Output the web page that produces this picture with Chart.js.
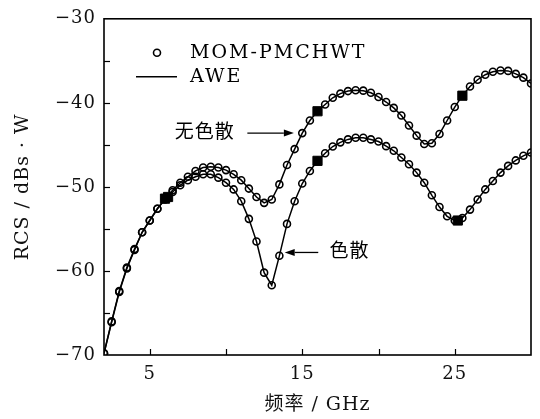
<!DOCTYPE html>
<html><head><meta charset="utf-8">
<script src="https://cdn.jsdelivr.net/npm/chart.js@4.4.1/dist/chart.umd.min.js"></script>
<style>html,body{margin:0;padding:0;background:#fff;}#wrap{width:540px;height:419px;}</style>
</head><body><div id="wrap"><canvas id="c" width="540" height="419"></canvas></div>
<script>
// Frequencies (GHz)
const freqGHz = [2,2.5,3,3.5,4,4.5,5,5.5,6,6.5,7,7.5,8,8.5,9,9.5,10,10.5,11,11.5,12,12.5,13,13.5,14,14.5,15,15.5,16,16.5,17,17.5,18,18.5,19,19.5,20,20.5,21,21.5,22,22.5,23,23.5,24,24.5,25,25.5,26,26.5,27,27.5,28,28.5,29,29.5,30];
// RCS without dispersion (无色散), dBsW
const rcsNoDispersion = [-69.8,-66.1,-62.5,-59.7,-57.5,-55.4,-54.0,-52.6,-51.4,-50.4,-49.5,-48.8,-48.1,-47.7,-47.6,-47.7,-48.0,-48.5,-49.2,-50.2,-51.2,-51.9,-51.5,-49.7,-47.4,-45.5,-43.6,-42.1,-41.0,-40.2,-39.4,-38.9,-38.6,-38.5,-38.55,-38.8,-39.3,-39.9,-40.6,-41.5,-42.7,-43.9,-44.9,-44.8,-43.7,-42.1,-40.5,-39.15,-38.05,-37.25,-36.65,-36.3,-36.15,-36.2,-36.55,-37.0,-37.7];
// RCS with dispersion (色散), dBsW
const rcsDispersion = [-69.8,-66.0,-62.4,-59.6,-57.4,-55.4,-54.0,-52.6,-51.5,-50.6,-49.8,-49.2,-48.8,-48.5,-48.5,-48.9,-49.5,-50.3,-51.7,-53.8,-56.5,-60.2,-61.7,-58.2,-54.4,-51.7,-49.6,-48.1,-46.9,-46.0,-45.2,-44.7,-44.35,-44.15,-44.15,-44.35,-44.6,-45.15,-45.7,-46.5,-47.3,-48.3,-49.5,-51.0,-52.4,-53.5,-54.0,-53.7,-52.7,-51.5,-50.3,-49.3,-48.3,-47.5,-46.85,-46.3,-45.9];
// AWE expansion points (filled squares)
const expFreqNoDisp = [6, 16, 25.5];
const expRcsNoDisp = [-51.4, -41.0, -39.15];
const expFreqDisp = [6.2, 16, 25.2];
const expRcsDisp = [-51.2, -46.9, -54.0];
// Tick labels
const xTickLabels = [5, 15, 25];
const yTickLabels = [-30, -40, -50, -60, -70];
const legendLabels = ['MOM-PMCHWT', 'AWE'];
const curveLabels = ['无色散', '色散'];
const xTitle = '频率 / GHz';
const yTitle = 'RCS / dBs · W';

const FONT = '"DejaVu Serif", "Noto Sans CJK SC", serif';

function pts(xs, ys){ return xs.map((x,i)=>({x:x, y:ys[i]})); }

const curveStyle = {
  showLine: true, borderColor: '#000', borderWidth: 1.5,
  pointRadius: 3.5, pointBorderWidth: 1.6, pointBorderColor: '#000',
  pointBackgroundColor: 'rgba(0,0,0,0)', pointStyle: 'circle', tension: 0
};
const squareStyle = {
  showLine: false, pointStyle: 'rect', pointRadius: 6.5,
  pointBackgroundColor: '#000', pointBorderColor: '#000', pointBorderWidth: 1
};

const decor = {
  id: 'decor',
  beforeDraw(chart){ chart.ctx.letterSpacing = '1px'; },
  afterDraw(chart){
    const ctx = chart.ctx, a = chart.chartArea;
    const xs = chart.scales.x, ys = chart.scales.y;
    ctx.save();
    ctx.strokeStyle = '#000'; ctx.fillStyle = '#000';
    // frame
    ctx.lineWidth = 1.6;
    ctx.strokeRect(a.left, a.top, a.right - a.left, a.bottom - a.top);
    // inner ticks
    ctx.lineWidth = 1.2;
    const tl = 6;
    xs.ticks.forEach(t => {
      if (t.value <= xs.min || t.value >= xs.max) return;
      const px = Math.round(xs.getPixelForValue(t.value)) + 0.5;
      ctx.beginPath(); ctx.moveTo(px, a.bottom); ctx.lineTo(px, a.bottom - tl); ctx.stroke();
    });
    ys.ticks.forEach(t => {
      if (t.value <= ys.min || t.value >= ys.max) return;
      const py = Math.round(ys.getPixelForValue(t.value)) + 0.5;
      ctx.beginPath(); ctx.moveTo(a.left, py); ctx.lineTo(a.left + tl, py); ctx.stroke();
    });
    // legend
    const lx = a.left, ly = a.top;
    ctx.lineWidth = 1.6;
    ctx.beginPath(); ctx.arc(lx + 53, ly + 34, 3.5, 0, Math.PI*2); ctx.stroke();
    ctx.lineWidth = 1.4;
    ctx.beginPath(); ctx.moveTo(lx + 32, ly + 58); ctx.lineTo(lx + 73, ly + 58); ctx.stroke();
    ctx.font = '19px ' + FONT;
    ctx.letterSpacing = '2px';
    ctx.textBaseline = 'middle'; ctx.textAlign = 'left';
    ctx.fillText(legendLabels[0], lx + 86, ly + 34);
    ctx.fillText(legendLabels[1], lx + 86, ly + 58);
    ctx.letterSpacing = '1px';
    // annotations
    function arrow(x0, y0, x1, y1){
      ctx.lineWidth = 1.3;
      const ang = Math.atan2(y1 - y0, x1 - x0);
      const hl = 10, hw = 3.5;
      const bx = x1 - hl*Math.cos(ang), by = y1 - hl*Math.sin(ang);
      ctx.beginPath(); ctx.moveTo(x0, y0); ctx.lineTo(bx, by); ctx.stroke();
      ctx.beginPath(); ctx.moveTo(x1, y1);
      ctx.lineTo(bx + hw*Math.sin(ang), by - hw*Math.cos(ang));
      ctx.lineTo(bx - hw*Math.sin(ang), by + hw*Math.cos(ang));
      ctx.closePath(); ctx.fill();
    }
    ctx.font = '19px ' + FONT;
    ctx.textAlign = 'center';
    const ay1 = ys.getPixelForValue(-43.6);
    ctx.fillText(curveLabels[0], xs.getPixelForValue(8.6), ay1);
    arrow(xs.getPixelForValue(11.4), ay1, xs.getPixelForValue(14.45), ay1);
    const ay2 = ys.getPixelForValue(-57.8);
    ctx.fillText(curveLabels[1], xs.getPixelForValue(18.1), ay2);
    arrow(xs.getPixelForValue(16.05), ay2, xs.getPixelForValue(13.85), ay2);
    ctx.restore();
  }
};

new Chart(document.getElementById('c'), {
  type: 'scatter',
  data: {
    datasets: [
      Object.assign({label: curveLabels[0], data: pts(freqGHz, rcsNoDispersion)}, curveStyle),
      Object.assign({label: curveLabels[1], data: pts(freqGHz, rcsDispersion)}, curveStyle),
      Object.assign({label: 'exp1', data: pts(expFreqNoDisp, expRcsNoDisp)}, squareStyle),
      Object.assign({label: 'exp2', data: pts(expFreqDisp, expRcsDisp)}, squareStyle)
    ]
  },
  options: {
    responsive: false, devicePixelRatio: 1, animation: false,
    layout: { padding: { top: 17, right: 5, left: 0, bottom: 0 } },
    plugins: { legend: { display: false }, tooltip: { enabled: false } },
    scales: {
      x: {
        type: 'linear', min: 2, max: 30,
        ticks: { stepSize: 5, autoSkip: false, maxRotation: 0, padding: 9, color: '#111',
          font: { family: FONT, size: 18 },
          callback: v => xTickLabels.includes(v) ? String(v) : '' },
        grid: { display: false, drawTicks: false },
        border: { display: false },
        title: { display: true, text: xTitle, color: '#111', font: { family: FONT, size: 19 }, padding: { top: 0, bottom: 3 } },
        afterFit: s => { s.height = 64; }
      },
      y: {
        type: 'linear', min: -70, max: -30,
        ticks: { stepSize: 5, autoSkip: false, padding: 8, color: '#111',
          font: { family: FONT, size: 18 },
          callback: v => yTickLabels.includes(v) ? '\u2212' + Math.abs(v) : '' },
        grid: { display: false, drawTicks: false },
        border: { display: false },
        title: { display: true, text: yTitle, color: '#111', font: { family: FONT, size: 19 }, padding: { top: 12, bottom: 0 } },
        afterFit: s => { s.width = 104; }
      }
    }
  },
  plugins: [decor]
});
</script>
</body></html>
